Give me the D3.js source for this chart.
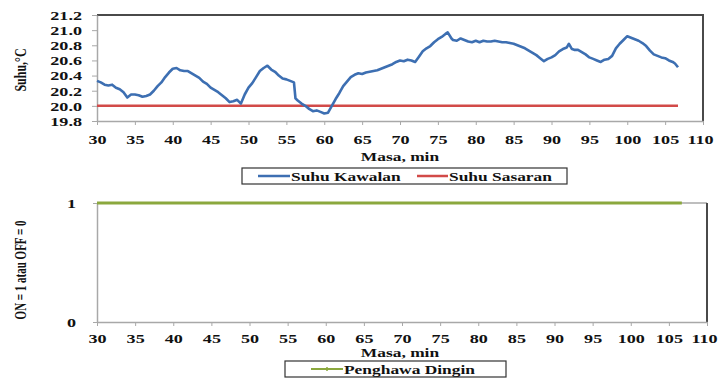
<!DOCTYPE html>
<html>
<head>
<meta charset="utf-8">
<script src="https://cdn.jsdelivr.net/npm/d3@7"></script>
<style>
  html, body { margin: 0; padding: 0; background: #fff; }
  svg { display: block; }
  text { font-family: "Liberation Serif", "DejaVu Serif", serif; font-weight: bold; fill: #111; }
</style>
</head>
<body>
<svg id="chart" width="720" height="379"></svg>
<script>
// Time in minutes and measured temperature (°C) of the controlled space
const minutes = [
  30.0, 30.5, 31.0, 31.5, 32.0, 32.5, 33.0, 33.5, 34.0, 34.5,
  35.0, 35.5, 36.0, 36.5, 37.0, 37.5, 38.0, 38.5, 39.0, 39.5,
  40.0, 40.5, 41.0, 41.5, 42.0, 42.5, 43.0, 43.5, 44.0, 44.5,
  45.0, 45.5, 46.0, 46.5, 47.0, 47.5, 48.0, 48.5, 49.0, 49.5,
  50.0, 50.5, 51.0, 51.5, 52.0, 52.5, 53.0, 53.5, 54.0, 54.5,
  55.0, 55.5, 56.0, 56.2, 56.5, 57.0, 57.5, 58.0, 58.5, 59.0,
  59.5, 60.0, 60.5, 61.0, 61.5, 62.0, 62.5, 63.0, 63.5, 64.0,
  64.5, 65.0, 65.5, 66.0, 66.5, 67.0, 67.5, 68.0, 68.5, 69.0,
  69.5, 70.0, 70.5, 71.0, 71.5, 72.0, 72.5, 73.0, 73.5, 74.0,
  74.5, 75.0, 75.5, 76.0, 76.3, 76.8, 77.0, 77.5, 78.0, 78.5,
  79.0, 79.5, 80.0, 80.5, 81.0, 81.5, 82.0, 82.5, 83.0, 83.5,
  84.0, 84.5, 85.0, 85.5, 86.0, 86.5, 87.0, 87.5, 88.0, 88.5,
  89.0, 89.5, 90.0, 90.5, 91.0, 91.5, 92.0, 92.3, 92.7, 93.0,
  93.5, 94.0, 94.5, 95.0, 95.5, 96.0, 96.5, 97.0, 97.5, 98.0,
  98.5, 99.0, 99.5, 100.0, 100.5, 101.0, 101.5, 102.0, 102.5, 103.0,
  103.5, 104.0, 104.5, 105.0, 105.5, 106.0, 106.3, 106.7
];
const suhuKawalan = [
  20.33, 20.31, 20.28, 20.27, 20.28, 20.24, 20.22, 20.18, 20.11, 20.15,
  20.15, 20.14, 20.12, 20.13, 20.15, 20.20, 20.26, 20.31, 20.38, 20.44,
  20.49, 20.50, 20.47, 20.46, 20.46, 20.43, 20.40, 20.37, 20.32, 20.29,
  20.24, 20.21, 20.18, 20.14, 20.10, 20.05, 20.06, 20.08, 20.03, 20.15,
  20.24, 20.30, 20.38, 20.46, 20.50, 20.53, 20.48, 20.45, 20.40, 20.36,
  20.35, 20.33, 20.31, 20.10, 20.07, 20.03, 20.00, 19.96, 19.93, 19.94,
  19.92, 19.90, 19.91, 20.00, 20.09, 20.17, 20.26, 20.32, 20.38, 20.41,
  20.43, 20.42, 20.44, 20.45, 20.46, 20.47, 20.49, 20.51, 20.53, 20.55,
  20.58, 20.60, 20.59, 20.61, 20.60, 20.58, 20.65, 20.72, 20.76, 20.79,
  20.84, 20.88, 20.91, 20.95, 20.97, 20.89, 20.87, 20.86, 20.89, 20.87,
  20.85, 20.84, 20.86, 20.84, 20.86, 20.85, 20.85, 20.86, 20.85, 20.84,
  20.84, 20.83, 20.82, 20.80, 20.78, 20.76, 20.73, 20.70, 20.67, 20.63,
  20.59, 20.62, 20.64, 20.67, 20.72, 20.75, 20.77, 20.82, 20.75, 20.74,
  20.74, 20.71, 20.68, 20.64, 20.62, 20.60, 20.58, 20.61, 20.62, 20.66,
  20.76, 20.82, 20.87, 20.92, 20.90, 20.88, 20.86, 20.83, 20.79, 20.73,
  20.68, 20.66, 20.64, 20.63, 20.60, 20.58, 20.56, 20.51
];
// Set point and air-conditioner state over the same run
const suhuSasaran = [[30, 20.0], [106.7, 20.0]];
const penghawaDingin = [[30, 1], [106.7, 1]];

// Axis ticks
const timeTicks = [30, 35, 40, 45, 50, 55, 60, 65, 70, 75, 80, 85, 90, 95, 100, 105, 110];
const tempTicks = [19.8, 20.0, 20.2, 20.4, 20.6, 20.8, 21.0, 21.2];
const stateTicks = [0, 1];

const colBlue = "#3d6fb2", colRed = "#d24a48", colGreen = "#8ba83e";
const axisGray = "#a8a8a8", frameDark = "#4a4a4a";
const SX = 1.45; // horizontal glyph stretch

const svg = d3.select("#chart");

// helper: stretched text
function stext(g, x, y, str, size, anchor) {
  return g.append("text")
    .attr("transform", `translate(${x},${y}) scale(${SX},1)`)
    .attr("text-anchor", anchor || "middle")
    .style("font-size", size + "px")
    .text(str);
}

function styleAxis(sel, kind, offset) {
  sel.selectAll("text").each(function (d) {
    const t = d3.select(this);
    t.style("font-size", "12.5px").attr("fill", "#111");
    if (kind === "left") {
      t.attr("x", null).attr("dy", "0.35em")
       .attr("transform", `translate(${-offset},0) scale(${SX},1)`);
    } else {
      const shift = d === 110 ? -3 : 0;
      t.attr("y", null).attr("dy", null)
       .attr("transform", `translate(${shift},${offset}) scale(${SX},1)`);
    }
  });
  sel.selectAll("line").attr("stroke", axisGray);
  sel.select(".domain").attr("stroke", axisGray).attr("stroke-width", 1.5);
}

/* ---------- Upper panel: temperature ---------- */
const x1 = d3.scaleLinear().domain([30, 110]).range([97, 703]);
const y1 = d3.scaleLinear().domain([19.8, 21.2]).range([121, 15]);
const upper = svg.append("g");

// frame top and right
upper.append("path")
  .attr("d", `M${x1(30)},${y1(21.2)}H${x1(110)}V${y1(19.8)}`)
  .attr("fill", "none").attr("stroke", frameDark).attr("stroke-width", 2);

const ax1 = upper.append("g").attr("transform", `translate(0,${y1(19.8)})`)
  .call(d3.axisBottom(x1).tickValues(timeTicks).tickSize(4).tickSizeOuter(0).tickFormat(d3.format("d")));
styleAxis(ax1, "bottom", 23);
const ay1 = upper.append("g").attr("transform", `translate(${x1(30)},0)`)
  .call(d3.axisLeft(y1).tickValues(tempTicks).tickSize(5).tickSizeOuter(0).tickFormat(d3.format(".1f")));
styleAxis(ay1, "left", 15);

const line1 = d3.line().x((d, i) => x1(minutes[i])).y(d => y1(d));
upper.append("path").datum(suhuSasaran)
  .attr("d", d3.line().x(d => x1(d[0])).y(d => y1(d[1])))
  .attr("fill", "none").attr("stroke", colRed).attr("stroke-width", 2.5);
upper.append("path").datum(suhuKawalan)
  .attr("d", line1)
  .attr("fill", "none").attr("stroke", colBlue).attr("stroke-width", 2.6)
  .attr("stroke-linejoin", "round");

stext(upper, 400, 161, "Masa, min", 12);
upper.append("text")
  .attr("transform", `translate(26,70) scale(${SX},1) rotate(-90)`)
  .attr("text-anchor", "middle").style("font-size", "12px").text("Suhu,°C");

// legend
const lg1 = upper.append("g");
lg1.append("rect").attr("x", 242).attr("y", 168).attr("width", 325).attr("height", 16)
  .attr("fill", "#fff").attr("stroke", "#333").attr("stroke-width", 1.2);
lg1.append("line").attr("x1", 258).attr("x2", 290).attr("y1", 176).attr("y2", 176)
  .attr("stroke", colBlue).attr("stroke-width", 2.5);
stext(lg1, 291, 180.5, "Suhu Kawalan", 12, "start");
lg1.append("line").attr("x1", 417).attr("x2", 448).attr("y1", 176).attr("y2", 176)
  .attr("stroke", colRed).attr("stroke-width", 2.5);
stext(lg1, 449, 180.5, "Suhu Sasaran", 12, "start");

/* ---------- Lower panel: air-conditioner state ---------- */
const x2 = d3.scaleLinear().domain([30, 110]).range([97, 707]);
const y2 = d3.scaleLinear().domain([0, 1]).range([322, 203]);
const lower = svg.append("g");

lower.append("path")
  .attr("d", `M${x2(30)},${y2(1)}H${x2(110)}`)
  .attr("fill", "none").attr("stroke", axisGray).attr("stroke-width", 1.5);
lower.append("path")
  .attr("d", `M${x2(110)},${y2(1)}V${y2(0)}`)
  .attr("fill", "none").attr("stroke", frameDark).attr("stroke-width", 2);

const ax2 = lower.append("g").attr("transform", `translate(0,${y2(0)})`)
  .call(d3.axisBottom(x2).tickValues(timeTicks).tickSize(4).tickSizeOuter(0).tickFormat(d3.format("d")));
styleAxis(ax2, "bottom", 21);
const ay2 = lower.append("g").attr("transform", `translate(${x2(30)},0)`)
  .call(d3.axisLeft(y2).tickValues(stateTicks).tickSize(4).tickSizeOuter(0).tickFormat(d3.format("d")));
styleAxis(ay2, "left", 21);

lower.append("path").datum(penghawaDingin)
  .attr("d", d3.line().x(d => x2(d[0])).y(d => y2(d[1])))
  .attr("fill", "none").attr("stroke", colGreen).attr("stroke-width", 3);

stext(lower, 400, 357, "Masa, min", 12);
lower.append("text")
  .attr("transform", `translate(26,270) scale(${SX},1) rotate(-90)`)
  .attr("text-anchor", "middle").style("font-size", "11px").text("ON = 1 atau OFF = 0");

const lg2 = lower.append("g");
lg2.append("rect").attr("x", 285).attr("y", 361).attr("width", 221).attr("height", 16)
  .attr("fill", "#fff").attr("stroke", "#333").attr("stroke-width", 1.2);
lg2.append("line").attr("x1", 311).attr("x2", 343).attr("y1", 369).attr("y2", 369)
  .attr("stroke", colGreen).attr("stroke-width", 2);
lg2.append("line").attr("x1", 327).attr("x2", 327).attr("y1", 367).attr("y2", 371)
  .attr("stroke", colGreen).attr("stroke-width", 1.5);
stext(lg2, 344, 373.5, "Penghawa Dingin", 12, "start");
</script>
</body>
</html>
